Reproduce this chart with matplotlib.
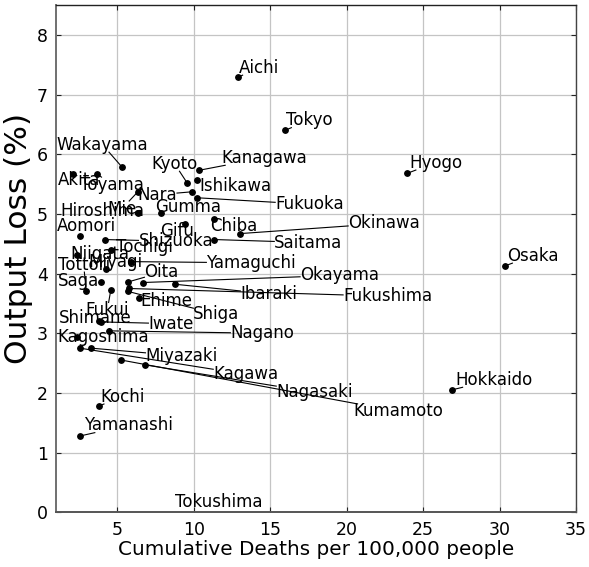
import matplotlib
matplotlib.use("Agg")
import matplotlib.pyplot as plt

# Prefecture data: cumulative deaths per 100,000 people vs output loss (%)
prefectures = [
    "Aichi", "Tokyo", "Hyogo", "Osaka", "Hokkaido", "Wakayama", "Kyoto",
    "Kanagawa", "Akita", "Toyama", "Ishikawa", "Nara", "Fukuoka", "Hiroshima",
    "Mie", "Gumma", "Okinawa", "Aomori", "Gifu", "Chiba", "Saitama",
    "Shizuoka", "Tochigi", "Niigata", "Miyagi", "Tottori", "Yamaguchi",
    "Oita", "Okayama", "Saga", "Ibaraki", "Fukushima", "Ehime", "Fukui",
    "Shiga", "Shimane", "Iwate", "Nagano", "Kagoshima", "Miyazaki", "Kagawa",
    "Nagasaki", "Kumamoto", "Kochi", "Yamanashi", "Tokushima",
]
deaths = [
    12.90, 15.97, 23.97, 30.37, 26.87, 5.33, 9.57,
    10.35, 2.13, 3.69, 10.20, 9.89, 10.22, 6.35,
    6.35, 7.87, 13.05, 2.54, 9.46, 11.31, 11.35,
    4.19, 4.60, 2.39, 4.24, 2.98, 5.87,
    5.72, 6.70, 3.91, 8.81, 5.75, 6.41, 4.58,
    5.72, 3.82, 3.91, 4.45, 2.39, 3.30, 2.56,
    6.83, 5.28, 3.80, 2.60, 11.00,
]
output_loss = [
    7.29, 6.40, 5.68, 4.13, 2.05, 5.78, 5.52,
    5.73, 5.67, 5.67, 5.56, 5.37, 5.27, 5.01,
    5.37, 5.01, 4.67, 4.63, 4.83, 4.92, 4.57,
    4.57, 4.40, 4.31, 4.07, 3.70, 4.20,
    3.86, 3.85, 3.86, 3.82, 3.75, 3.59, 3.72,
    3.70, 3.20, 3.19, 3.04, 2.93, 2.75, 2.75,
    2.47, 2.55, 1.78, 1.28, -0.60,
]

# Where each name is written (left edge, vertical centre), in data units
label_x = [
    12.98, 16.05, 24.08, 30.48, 27.08, 1.04, 7.24,
    11.81, 1.10, 2.54, 10.40, 6.32, 15.33, 1.30,
    4.37, 7.50, 20.10, 1.04, 7.83, 11.09, 15.27,
    6.39, 4.89, 1.95, 3.13, 1.10, 10.83,
    6.78, 16.96, 1.10, 13.05, 19.77, 6.52, 2.93,
    9.98, 1.17, 7.04, 12.40, 1.10, 6.85, 11.28,
    15.40, 20.42, 3.91, 2.80, 8.80,
]
label_y = [
    7.45, 6.57, 5.86, 4.30, 2.22, 6.16, 5.84,
    5.94, 5.57, 5.49, 5.47, 5.32, 5.16, 5.04,
    5.09, 5.11, 4.84, 4.79, 4.72, 4.79, 4.52,
    4.54, 4.44, 4.32, 4.20, 4.15, 4.18,
    4.02, 3.97, 3.87, 3.66, 3.62, 3.54, 3.39,
    3.32, 3.26, 3.16, 3.00, 2.94, 2.62, 2.31,
    2.01, 1.69, 1.94, 1.46, 0.17,
]

fig = plt.figure(figsize=(5.89, 5.67), dpi=100)
ax = fig.add_axes([0.0951, 0.0965, 0.8829, 0.8947])

ax.set_xlim(1.0, 35)
ax.set_ylim(0, 8.5)
ax.set_xticks([5, 10, 15, 20, 25, 30, 35])
ax.set_yticks(range(0, 9))
ax.grid(True, color="#c4c4c4", linewidth=0.9)
ax.set_axisbelow(True)

ax.tick_params(direction="in", length=3.5, width=0.8, labelsize=12.5,
               top=True, right=True, colors="#222222", labelcolor="black",
               pad=6)
for side, col, lw in [("left", "#707070", 1.4), ("bottom", "#555555", 1.4),
                      ("top", "#222222", 1.0), ("right", "#444444", 1.0)]:
    ax.spines[side].set_color(col)
    ax.spines[side].set_linewidth(lw)

ax.set_xlabel("Cumulative Deaths per 100,000 people", fontsize=14.4, labelpad=1)
ax.set_ylabel("Output Loss (%)", fontsize=22.5)
ax.yaxis.set_label_coords(-0.044, 0.54)

ax.plot(deaths, output_loss, "o", color="black", markersize=3.9,
        linestyle="none", zorder=3, clip_on=True)

texts = []
for name, tx, ty in zip(prefectures, label_x, label_y):
    t = ax.text(tx, ty, name, fontsize=12, ha="left", va="center",
                color="black", zorder=4)
    texts.append(t)

# Leader lines from each point toward the centre of its label,
# stopping at the label's bounding box
fig.canvas.draw()
renderer = fig.canvas.get_renderer()
inv = ax.transData.inverted()
for t, x, y in zip(texts, deaths, output_loss):
    if y < 0:
        continue
    bb = t.get_window_extent(renderer)
    x0, x1, y0, y1 = bb.x0, bb.x1, bb.y0 + 1.5, bb.y1 - 1.5
    px, py = ax.transData.transform((x, y))
    cx, cy = (x0 + x1) / 2, (y0 + y1) / 2
    dx, dy = cx - px, cy - py
    tx_ = 0.0
    if px < x0:
        tx_ = (x0 - px) / dx
    elif px > x1:
        tx_ = (x1 - px) / dx
    ty_ = 0.0
    if py < y0:
        ty_ = (y0 - py) / dy
    elif py > y1:
        ty_ = (y1 - py) / dy
    s = max(tx_, ty_)
    ex, ey = px + s * dx, py + s * dy
    if ((ex - px) ** 2 + (ey - py) ** 2) ** 0.5 < 2.5:
        continue
    xe, ye = inv.transform((ex, ey))
    ax.plot([x, xe], [y, ye], color="black", linewidth=0.8, zorder=2)

fig.savefig("out.png", dpi=100)
